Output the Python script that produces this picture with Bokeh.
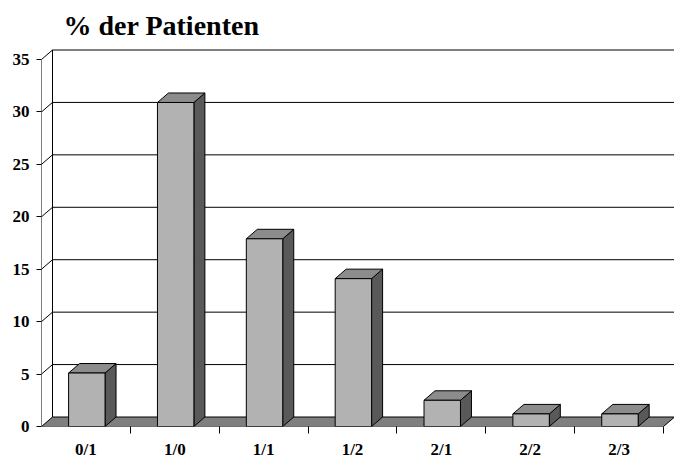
from bokeh.plotting import figure
from bokeh.models import Range1d, FixedTicker, Label
from bokeh.embed import file_html
from bokeh.resources import INLINE

# ---- data ----
categories = ["0/1", "1/0", "1/1", "1/2", "2/1", "2/2", "2/3"]
values = [5.1, 30.9, 17.9, 14.1, 2.5, 1.2, 1.2]
y_ticks = [0, 5, 10, 15, 20, 25, 30, 35]
title_text = "% der Patienten"

# ---- geometry (pixels -> data) ----
FRAME_W, FRAME_H = 633, 418
PX_X = 622 / 7.0
PX_Y = 367 / 35.0
DX = 11 / PX_X
DY = 9.5 / PX_Y
BAR_W = 0.41
N = len(categories)
X_END = FRAME_W / PX_X
Y_END = FRAME_H / PX_Y
YMAX = y_ticks[-1]

FONT = "Liberation Serif"

p = figure(frame_width=FRAME_W, frame_height=FRAME_H,
           x_range=Range1d(0, X_END), y_range=Range1d(0, Y_END),
           output_backend="svg", toolbar_location=None,
           min_border_left=41, min_border_right=0, min_border_top=8,
           min_border_bottom=31, background_fill_color="white",
           border_fill_color="white")
p.outline_line_color = None
p.xgrid.visible = False
p.ygrid.visible = False

# back wall gridlines
gx0, gx1, gy = [], [], []
for t in y_ticks[1:]:
    gx0.append(DX); gx1.append(X_END); gy.append(t + DY)
p.segment(x0=gx0, y0=gy, x1=gx1, y1=gy, line_color="black", line_width=1)
# left wall diagonals
p.segment(x0=[0] * len(y_ticks[1:]), y0=y_ticks[1:],
          x1=[DX] * len(y_ticks[1:]), y1=[t + DY for t in y_ticks[1:]],
          line_color="black", line_width=1)
# back-left vertical edge and front axis line
p.segment(x0=[DX, 0], y0=[DY, 0], x1=[DX, 0], y1=[YMAX + DY, YMAX],
          line_color="black", line_width=1)

# floor
p.patch([0, N, N + DX, DX], [0, 0, DY, DY], fill_color="#7f7f7f",
        line_color="black", line_width=1)

# bars
fx, fy, tx, ty, sx, sy = [], [], [], [], [], []
for i, v in enumerate(values):
    x0 = i + 0.5 - BAR_W / 2 + 0.01
    x1 = x0 + BAR_W
    fx.append([x0, x1, x1, x0]); fy.append([0, 0, v, v])
    tx.append([x0, x1, x1 + DX, x0 + DX]); ty.append([v, v, v + DY, v + DY])
    sx.append([x1, x1 + DX, x1 + DX, x1]); sy.append([0, DY, v + DY, v])
p.patches(sx, sy, fill_color="#595959", line_color="black", line_width=1)
p.patches(tx, ty, fill_color="#8c8c8c", line_color="black", line_width=1)
p.patches(fx, fy, fill_color="#b2b2b2", line_color="black", line_width=1)

# axes
centers = [i + 0.5 for i in range(N)]
p.xaxis.ticker = FixedTicker(ticks=centers, minor_ticks=list(range(1, N + 1)))
p.xaxis.major_label_overrides = {c: lab for c, lab in zip(centers, categories)}
p.xaxis.axis_line_color = None
p.xaxis.major_tick_out = 0
p.xaxis.major_tick_in = 0
p.xaxis.minor_tick_out = 7
p.xaxis.minor_tick_in = 0
p.xaxis.minor_tick_line_color = "black"
p.xaxis.major_label_standoff = 6
p.xaxis.major_label_text_font = FONT
p.xaxis.major_label_text_font_style = "bold"
p.xaxis.major_label_text_font_size = "17px"
p.xaxis.major_label_text_color = "black"

p.yaxis.ticker = FixedTicker(ticks=y_ticks)
p.yaxis.axis_line_color = None
p.yaxis.major_tick_out = 5
p.yaxis.major_tick_in = 0
p.yaxis.major_tick_line_color = "black"
p.yaxis.minor_tick_line_color = None
p.yaxis.major_label_standoff = 7
p.yaxis.major_label_text_font = FONT
p.yaxis.major_label_text_font_style = "bold"
p.yaxis.major_label_text_font_size = "17px"
p.yaxis.major_label_text_color = "black"

# title
p.add_layout(Label(x=(63 - 41) / PX_X, y=(426 - 25) / PX_Y, text=title_text,
                   text_font=FONT, text_font_style="bold",
                   text_font_size="28px", text_color="black",
                   text_baseline="alphabetic"))

open("out.html", "w").write(file_html(p, INLINE))
